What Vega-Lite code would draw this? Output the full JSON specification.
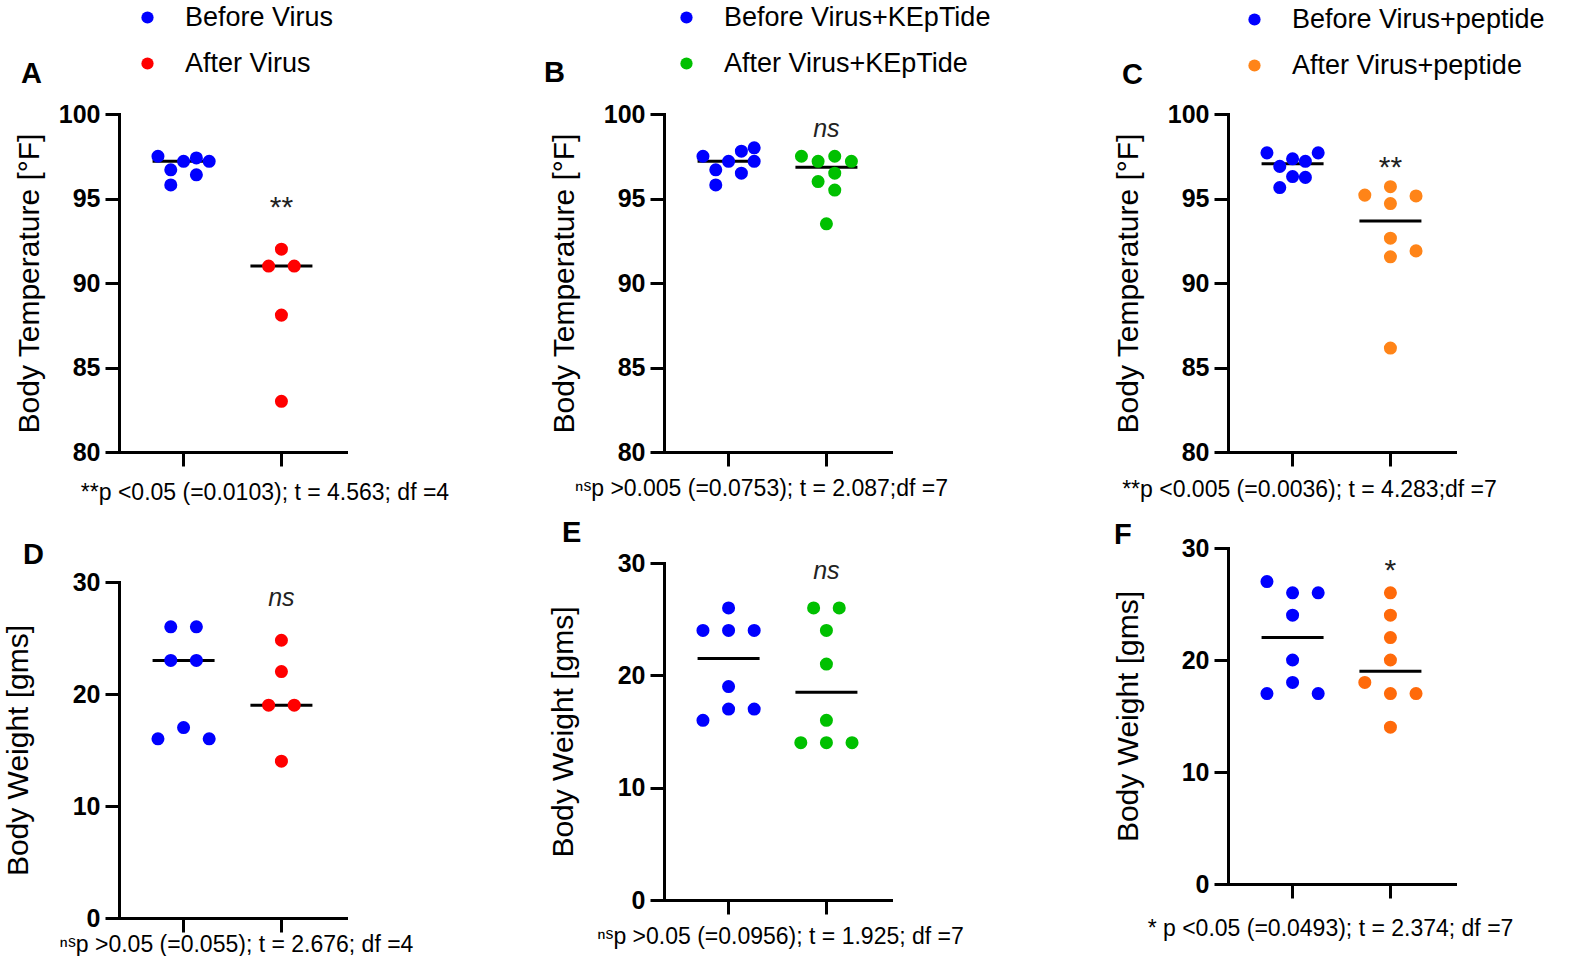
{
  "$schema": "https://vega.github.io/schema/vega-lite/v6.json",
  "background": "white",
  "padding": {"left": 3, "top": 4, "right": 0, "bottom": 0},
  "datasets": {
    "pts": [
      {"p": "A", "g": "Before Virus", "v": 97.5, "s": -2},
      {"p": "A", "g": "Before Virus", "v": 96.7, "s": -1},
      {"p": "A", "g": "Before Virus", "v": 95.8, "s": -1},
      {"p": "A", "g": "Before Virus", "v": 97.2, "s": 0},
      {"p": "A", "g": "Before Virus", "v": 97.4, "s": 1},
      {"p": "A", "g": "Before Virus", "v": 96.4, "s": 1},
      {"p": "A", "g": "Before Virus", "v": 97.2, "s": 2},
      {"p": "A", "g": "After Virus", "v": 92.0, "s": 0},
      {"p": "A", "g": "After Virus", "v": 91.0, "s": -1},
      {"p": "A", "g": "After Virus", "v": 91.0, "s": 1},
      {"p": "A", "g": "After Virus", "v": 88.1, "s": 0},
      {"p": "A", "g": "After Virus", "v": 83.0, "s": 0},
      {"p": "B", "g": "Before Virus+KEpTide", "v": 97.5, "s": -2},
      {"p": "B", "g": "Before Virus+KEpTide", "v": 96.7, "s": -1},
      {"p": "B", "g": "Before Virus+KEpTide", "v": 95.8, "s": -1},
      {"p": "B", "g": "Before Virus+KEpTide", "v": 97.2, "s": 0},
      {"p": "B", "g": "Before Virus+KEpTide", "v": 97.8, "s": 1},
      {"p": "B", "g": "Before Virus+KEpTide", "v": 96.5, "s": 1},
      {"p": "B", "g": "Before Virus+KEpTide", "v": 98.0, "s": 2},
      {"p": "B", "g": "Before Virus+KEpTide", "v": 97.2, "s": 2},
      {"p": "B", "g": "After Virus+KEpTide", "v": 97.5, "s": -1.95},
      {"p": "B", "g": "After Virus+KEpTide", "v": 97.2, "s": -0.65},
      {"p": "B", "g": "After Virus+KEpTide", "v": 97.5, "s": 0.65},
      {"p": "B", "g": "After Virus+KEpTide", "v": 97.2, "s": 1.95},
      {"p": "B", "g": "After Virus+KEpTide", "v": 96.5, "s": 0.65},
      {"p": "B", "g": "After Virus+KEpTide", "v": 96.0, "s": -0.65},
      {"p": "B", "g": "After Virus+KEpTide", "v": 95.5, "s": 0.65},
      {"p": "B", "g": "After Virus+KEpTide", "v": 93.5, "s": 0},
      {"p": "C", "g": "Before Virus+peptide", "v": 97.7, "s": -2},
      {"p": "C", "g": "Before Virus+peptide", "v": 96.9, "s": -1},
      {"p": "C", "g": "Before Virus+peptide", "v": 95.65, "s": -1},
      {"p": "C", "g": "Before Virus+peptide", "v": 97.35, "s": 0},
      {"p": "C", "g": "Before Virus+peptide", "v": 96.3, "s": 0},
      {"p": "C", "g": "Before Virus+peptide", "v": 97.2, "s": 1},
      {"p": "C", "g": "Before Virus+peptide", "v": 96.25, "s": 1},
      {"p": "C", "g": "Before Virus+peptide", "v": 97.7, "s": 2},
      {"p": "C", "g": "After Virus+peptide", "v": 95.2, "s": -2},
      {"p": "C", "g": "After Virus+peptide", "v": 95.7, "s": 0},
      {"p": "C", "g": "After Virus+peptide", "v": 94.7, "s": 0},
      {"p": "C", "g": "After Virus+peptide", "v": 95.15, "s": 2},
      {"p": "C", "g": "After Virus+peptide", "v": 92.65, "s": 0},
      {"p": "C", "g": "After Virus+peptide", "v": 91.9, "s": 2},
      {"p": "C", "g": "After Virus+peptide", "v": 91.55, "s": 0},
      {"p": "C", "g": "After Virus+peptide", "v": 86.15, "s": 0},
      {"p": "D", "g": "Before Virus", "v": 26, "s": -1},
      {"p": "D", "g": "Before Virus", "v": 26, "s": 1},
      {"p": "D", "g": "Before Virus", "v": 23, "s": -1},
      {"p": "D", "g": "Before Virus", "v": 23, "s": 1},
      {"p": "D", "g": "Before Virus", "v": 16, "s": -2},
      {"p": "D", "g": "Before Virus", "v": 17, "s": 0},
      {"p": "D", "g": "Before Virus", "v": 16, "s": 2},
      {"p": "D", "g": "After Virus", "v": 24.8, "s": 0},
      {"p": "D", "g": "After Virus", "v": 22, "s": 0},
      {"p": "D", "g": "After Virus", "v": 19, "s": -1},
      {"p": "D", "g": "After Virus", "v": 19, "s": 1},
      {"p": "D", "g": "After Virus", "v": 14, "s": 0},
      {"p": "E", "g": "Before Virus+KEpTide", "v": 26, "s": 0},
      {"p": "E", "g": "Before Virus+KEpTide", "v": 24, "s": -2},
      {"p": "E", "g": "Before Virus+KEpTide", "v": 24, "s": 0},
      {"p": "E", "g": "Before Virus+KEpTide", "v": 24, "s": 2},
      {"p": "E", "g": "Before Virus+KEpTide", "v": 19, "s": 0},
      {"p": "E", "g": "Before Virus+KEpTide", "v": 17, "s": 0},
      {"p": "E", "g": "Before Virus+KEpTide", "v": 17, "s": 2},
      {"p": "E", "g": "Before Virus+KEpTide", "v": 16, "s": -2},
      {"p": "E", "g": "After Virus+KEpTide", "v": 26, "s": -1},
      {"p": "E", "g": "After Virus+KEpTide", "v": 26, "s": 1},
      {"p": "E", "g": "After Virus+KEpTide", "v": 24, "s": 0},
      {"p": "E", "g": "After Virus+KEpTide", "v": 21, "s": 0},
      {"p": "E", "g": "After Virus+KEpTide", "v": 16, "s": 0},
      {"p": "E", "g": "After Virus+KEpTide", "v": 14, "s": -2},
      {"p": "E", "g": "After Virus+KEpTide", "v": 14, "s": 0},
      {"p": "E", "g": "After Virus+KEpTide", "v": 14, "s": 2},
      {"p": "F", "g": "Before Virus+peptide", "v": 27, "s": -2},
      {"p": "F", "g": "Before Virus+peptide", "v": 26, "s": 0},
      {"p": "F", "g": "Before Virus+peptide", "v": 26, "s": 2},
      {"p": "F", "g": "Before Virus+peptide", "v": 24, "s": 0},
      {"p": "F", "g": "Before Virus+peptide", "v": 20, "s": 0},
      {"p": "F", "g": "Before Virus+peptide", "v": 18, "s": 0},
      {"p": "F", "g": "Before Virus+peptide", "v": 17, "s": -2},
      {"p": "F", "g": "Before Virus+peptide", "v": 17, "s": 2},
      {"p": "F", "g": "After Virus+peptide", "v": 26, "s": 0},
      {"p": "F", "g": "After Virus+peptide", "v": 24, "s": 0},
      {"p": "F", "g": "After Virus+peptide", "v": 22, "s": 0},
      {"p": "F", "g": "After Virus+peptide", "v": 20, "s": 0},
      {"p": "F", "g": "After Virus+peptide", "v": 18, "s": -2},
      {"p": "F", "g": "After Virus+peptide", "v": 17, "s": 0},
      {"p": "F", "g": "After Virus+peptide", "v": 17, "s": 2},
      {"p": "F", "g": "After Virus+peptide", "v": 14, "s": 0}
    ],
    "sig": [
      {"p": "A", "g": "After Virus", "y": 93.9, "t": "**"},
      {"p": "B", "g": "After Virus+KEpTide", "y": 98.64, "t": "ns"},
      {"p": "C", "g": "After Virus+peptide", "y": 96.3, "t": "**"},
      {"p": "D", "g": "After Virus", "y": 27.86, "t": "ns"},
      {"p": "E", "g": "After Virus+KEpTide", "y": 28.6, "t": "ns"},
      {"p": "F", "g": "After Virus+peptide", "y": 27.1, "t": "*"}
    ]
  },
  "bounds": "flush",
  "spacing": 0,
  "resolve": {"scale": {"color": "independent", "x": "independent", "y": "independent", "xOffset": "independent"}, "legend": {"color": "independent"}},
  "hconcat": [
    {
      "vconcat": [
        {
          "width": 227, "height": 338,
          "title": {"text": "A", "dx": -98, "offset": -84.5},
          "data": {"name": "pts"},
          "transform": [{"filter": {"field": "p", "equal": "A"}}],
          "layer": [
            {"mark": {"type": "tick", "color": "black", "size": 62, "thickness": 3},
             "encoding": {
               "x": {"field": "g", "type": "nominal", "scale": {"domain": ["Before Virus", "After Virus"], "paddingInner": 0, "paddingOuter": 0.16},
                     "axis": {"title": "**p <0.05 (=0.0103); t = 4.563; df =4", "titleX": 145.5, "titleY": 47}},
               "y": {"aggregate": "median", "field": "v", "type": "quantitative", "scale": {"domain": [80, 100], "nice": false, "zero": false},
                     "axis": {"values": [80, 85, 90, 95, 100], "title": "Body Temperature [°F]", "titlePadding": 15}}}},
            {"mark": {"type": "point", "filled": true, "size": 170, "opacity": 1},
             "encoding": {
               "x": {"field": "g", "type": "nominal"},
               "xOffset": {"field": "s", "type": "quantitative", "scale": {"domain": [-3.82, 3.82]}},
               "y": {"field": "v", "type": "quantitative"},
               "color": {"field": "g", "type": "nominal", "scale": {"domain": ["Before Virus", "After Virus"], "range": ["#0000FF", "#FF0000"]},
                         "legend": {"title": null, "legendX": 15, "legendY": -110}}}},
            {"data": {"name": "sig"}, "transform": [{"filter": {"field": "p", "equal": "A"}}],
             "mark": {"type": "text", "fontSize": 30, "baseline": "alphabetic", "align": "center", "color": "#222"},
             "encoding": {"x": {"field": "g", "type": "nominal"}, "y": {"field": "y", "type": "quantitative"}, "text": {"field": "t"}}}
          ]
        },
        {
          "width": 227, "height": 336,
          "title": {"text": "D", "dx": -96, "offset": 0},
          "data": {"name": "pts"},
          "transform": [{"filter": {"field": "p", "equal": "D"}}],
          "layer": [
            {"mark": {"type": "tick", "color": "black", "size": 62, "thickness": 3},
             "encoding": {
               "x": {"field": "g", "type": "nominal", "scale": {"domain": ["Before Virus", "After Virus"], "paddingInner": 0, "paddingOuter": 0.16},
                     "axis": {"title": "ⁿˢp >0.05 (=0.055); t = 2.676; df =4", "titleX": 117, "titleY": 33}},
               "y": {"aggregate": "median", "field": "v", "type": "quantitative", "scale": {"domain": [0, 30], "nice": false},
                     "axis": {"values": [0, 10, 20, 30], "title": "Body Weight [gms]", "titlePadding": 26}}}},
            {"mark": {"type": "point", "filled": true, "size": 170, "opacity": 1},
             "encoding": {
               "x": {"field": "g", "type": "nominal"},
               "xOffset": {"field": "s", "type": "quantitative", "scale": {"domain": [-3.82, 3.82]}},
               "y": {"field": "v", "type": "quantitative"},
               "color": {"field": "g", "type": "nominal", "scale": {"domain": ["Before Virus", "After Virus"], "range": ["#0000FF", "#FF0000"]}, "legend": null}}},
            {"data": {"name": "sig"}, "transform": [{"filter": {"field": "p", "equal": "D"}}],
             "mark": {"type": "text", "fontSize": 25, "fontStyle": "italic", "baseline": "alphabetic", "align": "center", "color": "#222"},
             "encoding": {"x": {"field": "g", "type": "nominal"}, "y": {"field": "y", "type": "quantitative"}, "text": {"field": "t"}}}
          ]
        }
      ],
      "spacing": 130,
      "bounds": "flush",
      "resolve": {"scale": {"color": "independent", "x": "independent", "y": "independent", "xOffset": "independent"}, "legend": {"color": "independent"}}
    },
    {"width": 545, "height": 1, "data": {"values": []}, "mark": {"type": "point"}, "encoding": {}},
    {
      "vconcat": [
        {
          "width": 227, "height": 338,
          "title": {"text": "B", "dx": -120, "offset": -84},
          "data": {"name": "pts"},
          "transform": [{"filter": {"field": "p", "equal": "B"}}],
          "layer": [
            {"mark": {"type": "tick", "color": "black", "size": 62, "thickness": 3},
             "encoding": {
               "x": {"field": "g", "type": "nominal", "scale": {"domain": ["Before Virus+KEpTide", "After Virus+KEpTide"], "paddingInner": 0, "paddingOuter": 0.16},
                     "axis": {"title": "ⁿˢp >0.005 (=0.0753); t = 2.087;df =7", "titleX": 97, "titleY": 43}},
               "y": {"aggregate": "median", "field": "v", "type": "quantitative", "scale": {"domain": [80, 100], "nice": false, "zero": false},
                     "axis": {"values": [80, 85, 90, 95, 100], "title": "Body Temperature [°F]"}}}},
            {"mark": {"type": "point", "filled": true, "size": 170, "opacity": 1},
             "encoding": {
               "x": {"field": "g", "type": "nominal"},
               "xOffset": {"field": "s", "type": "quantitative", "scale": {"domain": [-3.82, 3.82]}},
               "y": {"field": "v", "type": "quantitative"},
               "color": {"field": "g", "type": "nominal", "scale": {"domain": ["Before Virus+KEpTide", "After Virus+KEpTide"], "range": ["#0000FF", "#00C000"]},
                         "legend": {"title": null, "legendX": 9, "legendY": -110}}}},
            {"data": {"name": "sig"}, "transform": [{"filter": {"field": "p", "equal": "B"}}],
             "mark": {"type": "text", "fontSize": 25, "fontStyle": "italic", "baseline": "alphabetic", "align": "center", "color": "#222"},
             "encoding": {"x": {"field": "g", "type": "nominal"}, "y": {"field": "y", "type": "quantitative"}, "text": {"field": "t"}}}
          ]
        },
        {
          "width": 227, "height": 337,
          "title": {"text": "E", "dx": -102, "offset": 3},
          "data": {"name": "pts"},
          "transform": [{"filter": {"field": "p", "equal": "E"}}],
          "layer": [
            {"mark": {"type": "tick", "color": "black", "size": 62, "thickness": 3},
             "encoding": {
               "x": {"field": "g", "type": "nominal", "scale": {"domain": ["Before Virus+KEpTide", "After Virus+KEpTide"], "paddingInner": 0, "paddingOuter": 0.16},
                     "axis": {"title": "ⁿˢp >0.05 (=0.0956); t = 1.925; df =7", "titleX": 116, "titleY": 43}},
               "y": {"aggregate": "median", "field": "v", "type": "quantitative", "scale": {"domain": [0, 30], "nice": false},
                     "axis": {"values": [0, 10, 20, 30], "title": "Body Weight [gms]", "titlePadding": 26}}}},
            {"mark": {"type": "point", "filled": true, "size": 170, "opacity": 1},
             "encoding": {
               "x": {"field": "g", "type": "nominal"},
               "xOffset": {"field": "s", "type": "quantitative", "scale": {"domain": [-3.82, 3.82]}},
               "y": {"field": "v", "type": "quantitative"},
               "color": {"field": "g", "type": "nominal", "scale": {"domain": ["Before Virus+KEpTide", "After Virus+KEpTide"], "range": ["#0000FF", "#00C000"]}, "legend": null}}},
            {"data": {"name": "sig"}, "transform": [{"filter": {"field": "p", "equal": "E"}}],
             "mark": {"type": "text", "fontSize": 25, "fontStyle": "italic", "baseline": "alphabetic", "align": "center", "color": "#222"},
             "encoding": {"x": {"field": "g", "type": "nominal"}, "y": {"field": "y", "type": "quantitative"}, "text": {"field": "t"}}}
          ]
        }
      ],
      "spacing": 111,
      "bounds": "flush",
      "resolve": {"scale": {"color": "independent", "x": "independent", "y": "independent", "xOffset": "independent"}, "legend": {"color": "independent"}}
    },
    {"width": 564, "height": 1, "data": {"values": []}, "mark": {"type": "point"}, "encoding": {}},
    {
      "vconcat": [
        {
          "width": 227, "height": 338,
          "title": {"text": "C", "dx": -106, "offset": -84},
          "data": {"name": "pts"},
          "transform": [{"filter": {"field": "p", "equal": "C"}}],
          "layer": [
            {"mark": {"type": "tick", "color": "black", "size": 62, "thickness": 3},
             "encoding": {
               "x": {"field": "g", "type": "nominal", "scale": {"domain": ["Before Virus+peptide", "After Virus+peptide"], "paddingInner": 0, "paddingOuter": 0.16},
                     "axis": {"title": "**p <0.005 (=0.0036); t = 4.283;df =7", "titleX": 81, "titleY": 44}},
               "y": {"aggregate": "median", "field": "v", "type": "quantitative", "scale": {"domain": [80, 100], "nice": false, "zero": false},
                     "axis": {"values": [80, 85, 90, 95, 100], "title": "Body Temperature [°F]"}}}},
            {"mark": {"type": "point", "filled": true, "size": 170, "opacity": 1},
             "encoding": {
               "x": {"field": "g", "type": "nominal"},
               "xOffset": {"field": "s", "type": "quantitative", "scale": {"domain": [-3.82, 3.82]}},
               "y": {"field": "v", "type": "quantitative"},
               "color": {"field": "g", "type": "nominal", "scale": {"domain": ["Before Virus+peptide", "After Virus+peptide"], "range": ["#0000FF", "#FF8418"]},
                         "legend": {"title": null, "legendX": 13, "legendY": -108}}}},
            {"data": {"name": "sig"}, "transform": [{"filter": {"field": "p", "equal": "C"}}],
             "mark": {"type": "text", "fontSize": 30, "baseline": "alphabetic", "align": "center", "color": "#222"},
             "encoding": {"x": {"field": "g", "type": "nominal"}, "y": {"field": "y", "type": "quantitative"}, "text": {"field": "t"}}}
          ]
        },
        {
          "width": 227, "height": 336,
          "title": {"text": "F", "dx": -114, "offset": -13.5},
          "data": {"name": "pts"},
          "transform": [{"filter": {"field": "p", "equal": "F"}}],
          "layer": [
            {"mark": {"type": "tick", "color": "black", "size": 62, "thickness": 3},
             "encoding": {
               "x": {"field": "g", "type": "nominal", "scale": {"domain": ["Before Virus+peptide", "After Virus+peptide"], "paddingInner": 0, "paddingOuter": 0.16},
                     "axis": {"title": "* p <0.05 (=0.0493); t = 2.374; df =7", "titleX": 102, "titleY": 51}},
               "y": {"aggregate": "median", "field": "v", "type": "quantitative", "scale": {"domain": [0, 30], "nice": false},
                     "axis": {"values": [0, 10, 20, 30], "title": "Body Weight [gms]"}}}},
            {"mark": {"type": "point", "filled": true, "size": 170, "opacity": 1},
             "encoding": {
               "x": {"field": "g", "type": "nominal"},
               "xOffset": {"field": "s", "type": "quantitative", "scale": {"domain": [-3.82, 3.82]}},
               "y": {"field": "v", "type": "quantitative"},
               "color": {"field": "g", "type": "nominal", "scale": {"domain": ["Before Virus+peptide", "After Virus+peptide"], "range": ["#0000FF", "#FF6A0A"]}, "legend": null}}},
            {"data": {"name": "sig"}, "transform": [{"filter": {"field": "p", "equal": "F"}}],
             "mark": {"type": "text", "fontSize": 30, "baseline": "alphabetic", "align": "center", "color": "#222"},
             "encoding": {"x": {"field": "g", "type": "nominal"}, "y": {"field": "y", "type": "quantitative"}, "text": {"field": "t"}}}
          ]
        }
      ],
      "spacing": 96,
      "bounds": "flush",
      "resolve": {"scale": {"color": "independent", "x": "independent", "y": "independent", "xOffset": "independent"}, "legend": {"color": "independent"}}
    }
  ],
  "config": {
    "view": {"stroke": null},
    "font": "Liberation Sans",
    "axis": {"domainColor": "black", "domainWidth": 3, "domainCap": "square", "tickColor": "black", "tickWidth": 3, "tickSize": 14, "labelColor": "black", "titleColor": "black", "grid": false},
    "axisX": {"labels": false, "titleFontSize": 23, "titleFontWeight": "normal", "titleBaseline": "alphabetic", "titleAlign": "center"},
    "axisY": {"labelFontSize": 25, "labelFontWeight": "bold", "labelPadding": 5, "minExtent": 60, "maxExtent": 60, "titleFontSize": 30, "titleFontWeight": "normal", "titlePadding": 25},
    "legend": {"orient": "none", "labelFontSize": 27, "labelColor": "black", "labelLimit": 500, "symbolSize": 150, "symbolType": "circle", "symbolStrokeWidth": 0, "rowPadding": 18, "labelOffset": 24, "padding": 0},
    "title": {"fontSize": 29, "fontWeight": "bold", "anchor": "start", "frame": "group", "baseline": "alphabetic", "color": "black"}
  }
}
